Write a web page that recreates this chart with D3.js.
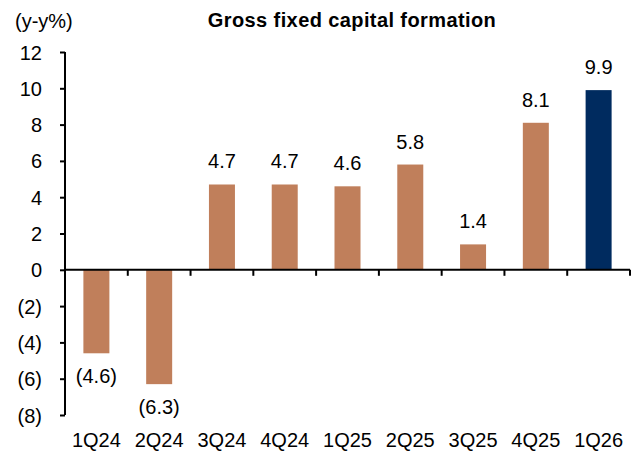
<!DOCTYPE html>
<html>
<head>
<meta charset="utf-8">
<script src="https://cdn.jsdelivr.net/npm/d3@7"></script>
<style>
  body { margin: 0; background: #fff; }
  svg text { font-family: Arial, "Liberation Sans", sans-serif; fill: #000; }
  .tick line, .domain { stroke: #000; }
</style>
</head>
<body>
<div id="chart"></div>
<script>
// data
const quarters = ["1Q24", "2Q24", "3Q24", "4Q24", "1Q25", "2Q25", "3Q25", "4Q25", "1Q26"];
const growth = [-4.6, -6.3, 4.7, 4.7, 4.6, 5.8, 1.4, 8.1, 9.9];
const yTicks = [-8, -6, -4, -2, 0, 2, 4, 6, 8, 10, 12];

const W = 643, H = 457;
const margin = { top: 52, right: 13, bottom: 42, left: 65 };
const chartW = W - margin.left - margin.right;
const chartH = H - margin.top - margin.bottom;
const FS = 20;

const svg = d3.select("#chart").append("svg")
  .attr("width", W).attr("height", H);

const g = svg.append("g").attr("transform", `translate(${margin.left},${margin.top})`);

const x = d3.scaleBand().domain(quarters).range([0, chartW]);
const y = d3.scaleLinear().domain([-8, 12]).range([chartH, 0]);
const barW = 26;

const fmt = v => v < 0 ? `(${Math.abs(v).toFixed(1)})` : v.toFixed(1);

// bars
g.selectAll("rect.bar")
  .data(quarters.map((q, i) => ({ q, v: growth[i], last: i === quarters.length - 1 })))
  .join("rect")
  .attr("class", "bar")
  .attr("x", d => x(d.q) + (x.bandwidth() - barW) / 2)
  .attr("width", barW)
  .attr("y", d => y(Math.max(0, d.v)))
  .attr("height", d => Math.abs(y(d.v) - y(0)))
  .attr("fill", d => d.last ? "#002B5F" : "#C07F5B");

// y axis
const yAxis = g.append("g")
  .call(d3.axisLeft(y).tickValues(yTicks).tickSize(5).tickPadding(18)
    .tickFormat(v => v < 0 ? `(${-v})` : v));
yAxis.select(".domain").attr("stroke-width", 2).attr("d", `M0,${y(12)}V${y(-8)}`);
yAxis.selectAll(".tick line").attr("stroke-width", 2);
yAxis.selectAll(".tick text").attr("font-size", FS).attr("dy", "0.35em");

// zero line with category boundary ticks
const xAxis = g.append("g").attr("transform", `translate(0,${y(0)})`);
xAxis.append("line").attr("x1", 0).attr("x2", chartW).attr("stroke", "#000").attr("stroke-width", 2);
xAxis.selectAll("line.bt")
  .data(quarters)
  .join("line")
  .attr("class", "bt")
  .attr("x1", d => x(d) + x.bandwidth()).attr("x2", d => x(d) + x.bandwidth())
  .attr("y1", 0).attr("y2", 6)
  .attr("stroke", "#000").attr("stroke-width", 2);

// category labels at the bottom
g.selectAll("text.cat")
  .data(quarters)
  .join("text")
  .attr("class", "cat")
  .attr("x", d => x(d) + x.bandwidth() / 2)
  .attr("y", chartH + 32)
  .attr("text-anchor", "middle")
  .attr("font-size", FS)
  .text(d => d);

// value labels
g.selectAll("text.val")
  .data(quarters.map((q, i) => ({ q, v: growth[i] })))
  .join("text")
  .attr("class", "val")
  .attr("x", d => x(d.q) + x.bandwidth() / 2)
  .attr("y", d => d.v >= 0 ? y(d.v) - 16 : y(d.v) + 30)
  .attr("text-anchor", "middle")
  .attr("font-size", FS)
  .text(d => fmt(d.v));

// unit label and title
svg.append("text").attr("x", 15).attr("y", 28).attr("font-size", FS).text("(y-y%)");
svg.append("text").attr("x", 352).attr("y", 27).attr("text-anchor", "middle")
  .attr("font-size", 20).attr("letter-spacing", 0.4).attr("font-weight", "bold")
  .text("Gross fixed capital formation");
</script>
</body>
</html>
